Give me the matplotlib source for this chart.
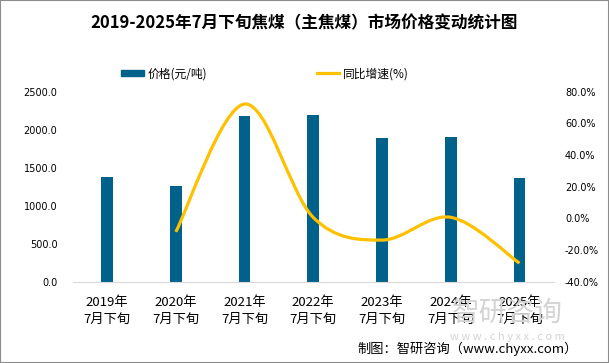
import numpy as np
from matplotlib import pyplot as plt
from matplotlib.patches import Rectangle
from matplotlib.path import Path
from matplotlib.patches import PathPatch
from matplotlib.lines import Line2D

plt.rcParams['font.family'] = ['Noto Sans CJK SC', 'DejaVu Sans']

YEARS = ['2019年\n7月下旬', '2020年\n7月下旬', '2021年\n7月下旬', '2022年\n7月下旬',
         '2023年\n7月下旬', '2024年\n7月下旬', '2025年\n7月下旬']
PRICE = [1378, 1259, 2180, 2193, 1891, 1904, 1364]
GROWTH = [None, -8.5, 72.3, 0.6, -13.7, 0.7, -28.3]

BAR_COLOR = '#00628A'
LINE_COLOR = '#FFC000'


def smooth_path(xs, ys):
    # excel-like bezier smoothing through the points
    pts = np.column_stack([xs, ys]).astype(float)
    n = len(pts)
    verts = [pts[0]]
    codes = [Path.MOVETO]
    for i in range(n - 1):
        p0 = pts[i - 1] if i > 0 else pts[i]
        p1 = pts[i]
        p2 = pts[i + 1]
        p3 = pts[i + 2] if i + 2 < n else pts[i + 1]
        c1 = p1 + (p2 - p0) / 6.0
        c2 = p2 - (p3 - p1) / 6.0
        verts += [c1, c2, p2]
        codes += [Path.CURVE4] * 3
    return Path(verts, codes)


fig = plt.figure(figsize=(6.09, 3.63), dpi=100)
ax = fig.add_axes([0.1194, 0.224, 0.790, 0.523])
x = np.arange(len(YEARS))

ax.bar(x, PRICE, width=0.17, color=BAR_COLOR, zorder=2)
ax.set_xlim(-0.5, len(YEARS) - 0.5)
ax.set_ylim(0, 2500)
ax.set_yticks(np.arange(0, 2501, 500))
ax.set_yticklabels([f'{v:.1f}' for v in np.arange(0, 2501, 500)],
                   family='DejaVu Sans', fontsize=7)
ax.set_xticks(x)
ax.set_xticklabels(YEARS, fontsize=9.5, linespacing=1.45)
ax.tick_params(axis='y', length=0, pad=11)
ax.tick_params(axis='x', length=0, pad=10)
for s in ['top', 'right', 'left']:
    ax.spines[s].set_visible(False)
ax.spines['bottom'].set_color('#d9d9d9')

ax2 = ax.twinx()
ax2.set_ylim(-40, 80)
ax2.set_yticks(np.arange(-40, 81, 20))
ax2.set_yticklabels([f'{v:.1f}%' for v in np.arange(-40, 81, 20)],
                    family='DejaVu Sans', fontsize=7)
ax2.tick_params(axis='y', length=0, pad=8)
for s in ['top', 'right', 'left', 'bottom']:
    ax2.spines[s].set_visible(False)

gx = [i for i, g in enumerate(GROWTH) if g is not None]
gy = [g for g in GROWTH if g is not None]
ax2.add_patch(PathPatch(smooth_path(gx, gy), facecolor='none',
                        edgecolor=LINE_COLOR, lw=2.3, zorder=3))

fig.text(0.5, 0.937, '2019-2025年7月下旬焦煤（主焦煤）市场价格变动统计图',
         ha='center', va='center', fontsize=12, fontweight='bold')

handles = [Rectangle((0, 0), 1, 1, color=BAR_COLOR),
           Line2D([0], [0], color=LINE_COLOR, lw=2.3)]
fig.legend(handles, ['价格(元/吨)', '同比增速(%)'], loc='center',
           bbox_to_anchor=(0.435, 0.797), ncol=2, frameon=False, fontsize=8.5,
           handlelength=1.9, handleheight=0.5, columnspacing=9.3, handletextpad=0.3)

# watermark
fig.text(0.834, 0.138, '智研咨询', ha='center', va='center', fontsize=20,
         color='#d4d4d4', zorder=0)
fig.text(0.834, 0.072, 'w w w . c h y x x . c o m', ha='center', va='center',
         fontsize=8, color='#d4d4d4', zorder=0)

fig.text(0.948, 0.04, '制图：智研咨询（www.chyxx.com）', ha='right', va='center',
         fontsize=9.5)

fig.patches.append(Rectangle((0, 0), 1, 1, transform=fig.transFigure, fill=False,
                             edgecolor='#8c8c8c', lw=1.5))

fig.savefig('out.png', dpi=100)
